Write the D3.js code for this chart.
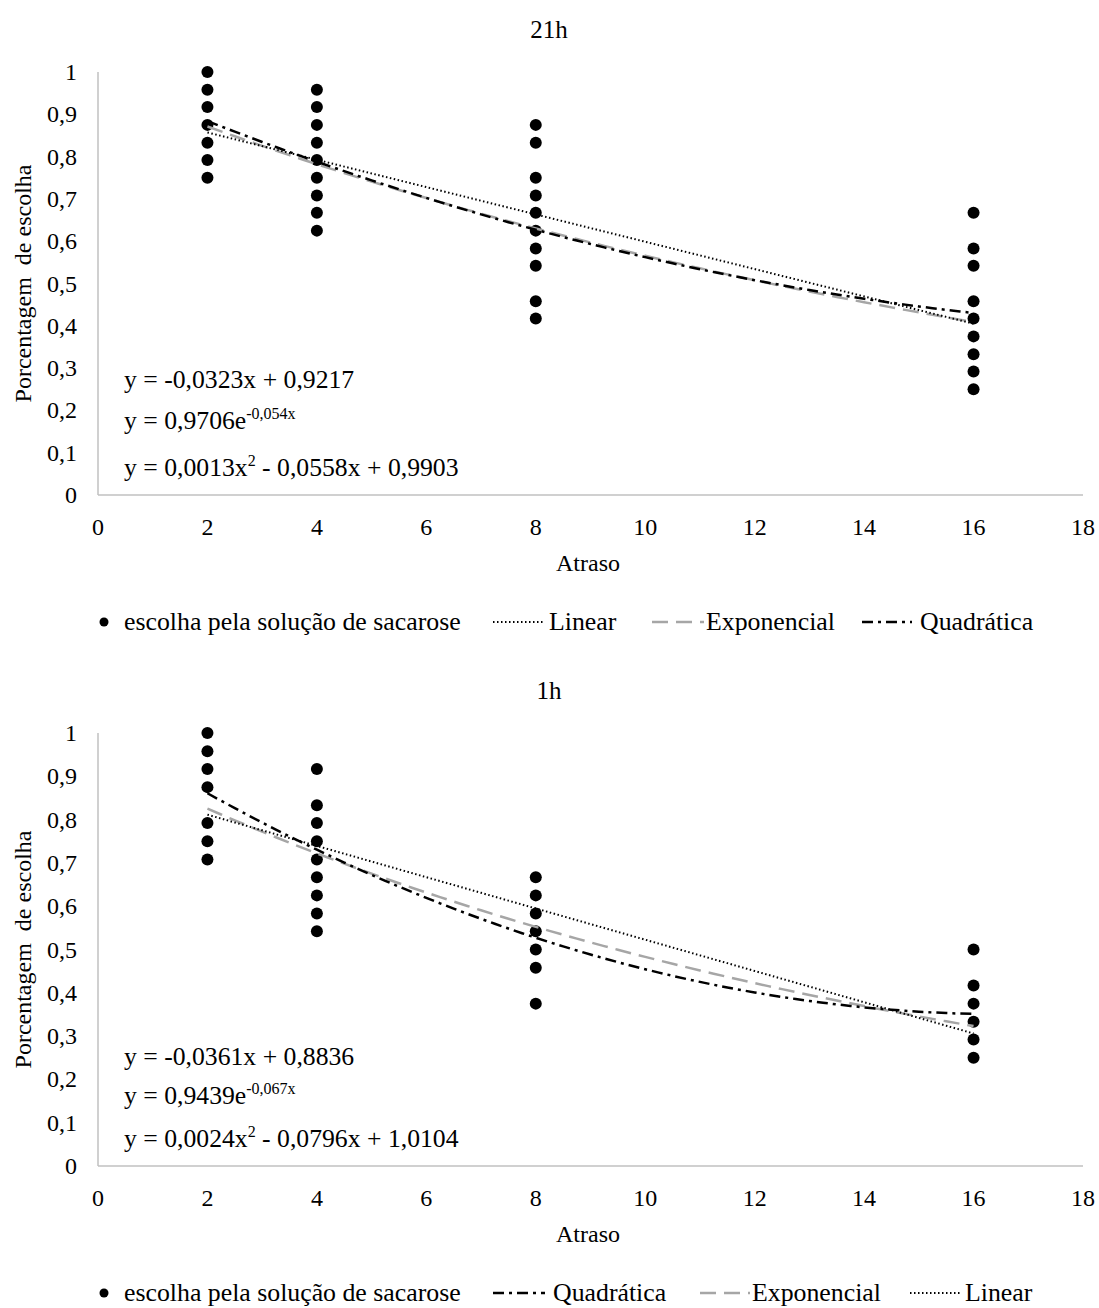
<!DOCTYPE html>
<html>
<head>
<meta charset="utf-8">
<script src="https://cdn.jsdelivr.net/npm/d3@7"></script>
<style>
    body { margin: 0; background: #fff; }
    svg text { font-family: "Liberation Serif", "Times New Roman", serif; fill: #000; }
</style>
</head>
<body>
<div id="chart"></div>
<script>
// ticks
let xTicks = [0, 2, 4, 6, 8, 10, 12, 14, 16, 18];
let yTicks = [0, 0.1, 0.2, 0.3, 0.4, 0.5, 0.6, 0.7, 0.8, 0.9, 1];
let delays = [2, 4, 8, 16];

// 21h: choice proportions at each delay
let choice21h = [
    [1, 0.958, 0.917, 0.875, 0.833, 0.792, 0.75],
    [0.958, 0.917, 0.875, 0.833, 0.792, 0.75, 0.708, 0.667, 0.625],
    [0.875, 0.833, 0.75, 0.708, 0.667, 0.625, 0.583, 0.542, 0.458, 0.417],
    [0.667, 0.583, 0.542, 0.458, 0.417, 0.375, 0.333, 0.292, 0.25]
];
let linear21h = [-0.0323, 0.9217];
let expo21h = [0.9706, -0.054];
let quad21h = [0.0013, -0.0558, 0.9903];

// 1h
let choice1h = [
    [1, 0.958, 0.917, 0.875, 0.792, 0.75, 0.708],
    [0.917, 0.833, 0.792, 0.75, 0.708, 0.667, 0.625, 0.583, 0.542],
    [0.667, 0.625, 0.583, 0.542, 0.5, 0.458, 0.375],
    [0.5, 0.417, 0.375, 0.333, 0.292, 0.25]
];
let linear1h = [-0.0361, 0.8836];
let expo1h = [0.9439, -0.067];
let quad1h = [0.0024, -0.0796, 1.0104];

let legendOrder21h = ["Linear", "Exponencial", "Quadrática"];
let legendOrder1h = ["Quadrática", "Exponencial", "Linear"];

let w = 1099;
let h = 1308;

let svg = d3.select("#chart")
    .append("svg")
    .attr("width", w)
    .attr("height", h);

let fmt = (d) => String(d).replace(".", ",");

let styles = {
    "Linear": {stroke: "#000", width: 2, dash: "1.5,2.5"},
    "Exponencial": {stroke: "#a6a6a6", width: 2.5, dash: "16,8"},
    "Quadrática": {stroke: "#000", width: 2.5, dash: "11,5,3,5"}
};

let drawChart = (cfg) => {
    let g = svg.append("g");

    let x = d3.scaleLinear().domain([0, 18]).range([98, 1083]);
    let y = d3.scaleLinear().domain([0, 1]).range([cfg.y0, cfg.y1]);

    g.append("text")
        .attr("x", 549)
        .attr("y", cfg.y1 - 34)
        .attr("text-anchor", "middle")
        .style("font-size", "25px")
        .text(cfg.title);

    // axes (no ticks, light grey lines)
    g.append("line")
        .attr("x1", x(0)).attr("x2", x(18))
        .attr("y1", y(0)).attr("y2", y(0))
        .attr("stroke", "#c0c0c0").attr("stroke-width", 1.5);
    g.append("line")
        .attr("x1", x(0)).attr("x2", x(0))
        .attr("y1", y(0)).attr("y2", y(1))
        .attr("stroke", "#c0c0c0").attr("stroke-width", 1.5);

    g.selectAll(".xt")
        .data(xTicks)
        .enter()
        .append("text")
        .attr("x", (d) => x(d))
        .attr("y", y(0) + 40)
        .attr("text-anchor", "middle")
        .style("font-size", "24px")
        .text((d) => d);

    g.selectAll(".yt")
        .data(yTicks)
        .enter()
        .append("text")
        .attr("x", 77)
        .attr("y", (d) => y(d) + 8)
        .attr("text-anchor", "end")
        .style("font-size", "24px")
        .text((d) => fmt(d));

    g.append("text")
        .attr("x", 588)
        .attr("y", y(0) + 76)
        .attr("text-anchor", "middle")
        .style("font-size", "24px")
        .text("Atraso");

    g.append("text")
        .attr("transform", "translate(31," + ((y(0) + y(1)) / 2) + ") rotate(-90)")
        .attr("text-anchor", "middle")
        .style("font-size", "24px")
        .style("white-space", "pre")
        .text("Porcentagem  de escolha");

    // trend lines
    let xs = d3.range(2, 16.001, 0.25);
    let curves = {
        "Linear": xs.map((v) => [v, cfg.linear[0] * v + cfg.linear[1]]),
        "Exponencial": xs.map((v) => [v, cfg.expo[0] * Math.exp(cfg.expo[1] * v)]),
        "Quadrática": xs.map((v) => [v, cfg.quad[0] * v * v + cfg.quad[1] * v + cfg.quad[2]])
    };
    let line = d3.line().x((d) => x(d[0])).y((d) => y(d[1]));

    // dots
    let points = [];
    delays.forEach((dl, i) => cfg.choice[i].forEach((v) => points.push([dl, v])));

    g.selectAll("circle")
        .data(points)
        .enter()
        .append("circle")
        .attr("r", 6)
        .attr("cx", (d) => x(d[0]))
        .attr("cy", (d) => y(d[1]))
        .attr("fill", "#000");

    ["Exponencial", "Quadrática", "Linear"].forEach((k) => {
        g.append("path")
            .attr("d", line(curves[k]))
            .attr("fill", "none")
            .attr("stroke", styles[k].stroke)
            .attr("stroke-width", styles[k].width)
            .attr("stroke-dasharray", styles[k].dash);
    });

    // equations
    let eq = g.append("g").style("font-size", "25.7px");
    eq.append("text")
        .attr("x", 124).attr("y", y(0) + cfg.eqY[0])
        .text("y = " + fmt(cfg.linear[0]) + "x + " + fmt(cfg.linear[1]));
    let e2 = eq.append("text").attr("x", 124).attr("y", y(0) + cfg.eqY[1]);
    e2.append("tspan").text("y = " + fmt(cfg.expo[0]) + "e");
    e2.append("tspan").attr("dy", -10).style("font-size", "16px").text(fmt(cfg.expo[1]) + "x");
    let e3 = eq.append("text").attr("x", 124).attr("y", y(0) + cfg.eqY[2]);
    e3.append("tspan").text("y = " + fmt(cfg.quad[0]) + "x");
    e3.append("tspan").attr("dy", -10).style("font-size", "16px").text("2");
    e3.append("tspan").attr("dy", 10)
        .text(" - " + fmt(Math.abs(cfg.quad[1])) + "x + " + fmt(cfg.quad[2]));

    // legend
    let ly = y(0) + 127;
    g.append("circle").attr("cx", 104).attr("cy", ly).attr("r", 4.5).attr("fill", "#000");
    g.append("text").attr("x", 124).attr("y", ly + 8).style("font-size", "25.8px")
        .text("escolha pela solução de sacarose");
    cfg.legend.forEach((k, i) => {
        let pos = cfg.legendPos[i];
        g.append("line")
            .attr("x1", pos[0]).attr("x2", pos[1])
            .attr("y1", ly).attr("y2", ly)
            .attr("stroke", styles[k].stroke)
            .attr("stroke-width", styles[k].width)
            .attr("stroke-dasharray", styles[k].dash);
        g.append("text").attr("x", pos[2]).attr("y", ly + 8).style("font-size", "25.8px").text(k);
    });
};

drawChart({
    title: "21h", y0: 495, y1: 72,
    choice: choice21h, linear: linear21h, expo: expo21h, quad: quad21h,
    eqY: [-107, -66, -19],
    legend: legendOrder21h,
    legendPos: [[493, 545, 549], [652, 704, 706], [862, 912, 920]]
});

drawChart({
    title: "1h", y0: 1166, y1: 733,
    choice: choice1h, linear: linear1h, expo: expo1h, quad: quad1h,
    eqY: [-101, -62, -19],
    legend: legendOrder1h,
    legendPos: [[493, 545, 553], [700, 750, 752], [910, 962, 965]]
});
</script>
</body>
</html>
